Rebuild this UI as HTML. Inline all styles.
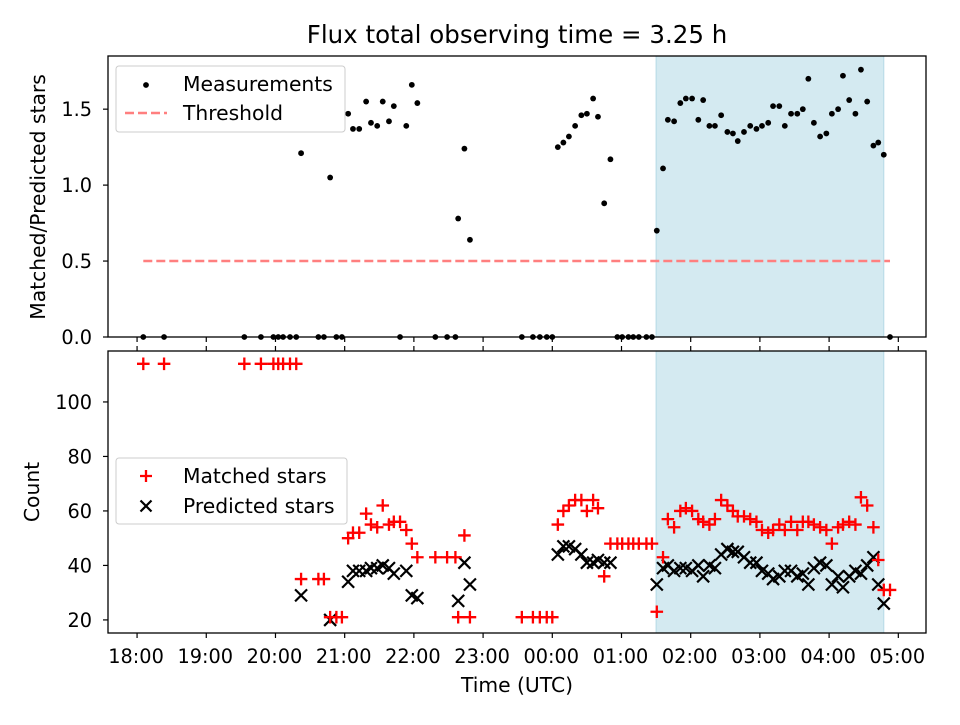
<!DOCTYPE html>
<html><head><meta charset="utf-8"><style>
body{margin:0;background:#fff;}
svg text{font-family:"DejaVu Sans","Liberation Sans",sans-serif;fill:#000;}
</style></head><body>
<svg id="c" width="960" height="720" xmlns="http://www.w3.org/2000/svg"></svg>
<script>
const times=[0.09,0.39,1.55,1.79,1.97,2.04,2.11,2.21,2.30,2.37,2.62,2.70,2.79,2.88,2.96,3.05,3.12,3.21,3.31,3.38,3.47,3.55,3.64,3.71,3.80,3.89,3.97,4.05,4.31,4.48,4.60,4.64,4.73,4.81,
5.56,5.72,5.82,5.92,6.00,6.08,6.16,6.24,6.33,6.42,6.50,6.59,6.66,6.75,6.84,6.94,7.01,7.10,7.17,7.25,7.36,7.44,7.51,
7.60,7.67,7.76,7.85,7.93,8.02,8.11,8.18,8.27,8.35,8.44,8.53,8.61,8.68,8.77,8.86,8.95,9.03,9.12,9.19,9.28,9.36,9.45,9.54,9.62,9.70,9.78,9.87,9.96,10.04,10.13,10.20,10.29,10.38,10.46,10.55,10.64,10.71,10.79,10.88];
const ratios=[0,0,0,0,0,0,0,0,0,1.21,0,0,1.05,0,0,1.47,1.37,1.37,1.55,1.41,1.39,1.55,1.42,1.52,0,1.39,1.66,1.54,0,0,0,0.78,1.24,0.64,
0,0,0,0,0,1.25,1.28,1.32,1.39,1.46,1.47,1.57,1.45,0.88,1.17,0,0,0,0,0,0,0,0.70,
1.11,1.43,1.42,1.54,1.57,1.57,1.43,1.56,1.39,1.39,1.46,1.35,1.34,1.29,1.35,1.39,1.37,1.39,1.41,1.52,1.52,1.39,1.47,1.47,1.50,1.70,1.41,1.32,1.34,1.47,1.50,1.72,1.56,1.47,1.76,1.55,1.26,1.28,1.20,0];
const matched=[114,114,114,114,114,114,114,114,114,35,35,35,21,21,21,50,52,52,59,55,54,62,55,56,56,53,48,43,43,43,43,21,51,21,
21,21,21,21,21,55,60,62,64,64,60,64,61,36,48,48,48,48,48,48,48,48,23,
43,57,54,60,61,60,57,56,55,57,64,62,60,58,58,57,56,53,52,53,55,53,56,53,56,56,55,54,53,48,54,55,56,55,65,62,54,42,31,31];
const predicted=[null,null,null,null,null,null,null,null,null,29,null,null,20,null,null,34,38,38,38,39,39,40,39,37,null,38,29,28,null,null,null,27,41,33,
null,null,null,null,null,44,47,47,46,44,41,41,42,41,41,null,null,null,null,null,null,null,33,
39,40,38,39,39,38,40,36,40,39,44,46,45,45,43,41,41,38,37,35,36,38,38,36,37,33,39,41,40,33,36,32,36,38,37,40,43,33,26,null];
const tickLabels=["18:00","19:00","20:00","21:00","22:00","23:00","00:00","01:00","02:00","03:00","04:00","05:00"];
const topTicks=[0,0.5,1.0,1.5];
const botTicks=[20,40,60,80,100];
const threshold=0.5;
const shadeStart=7.50, shadeEnd=10.79;

const NS="http://www.w3.org/2000/svg";
const svg=document.getElementById('c');
const L=108,R=926,T1=56,B1=337,T2=351,B2=633;
const xMin=-0.42,xMax=11.40;
const X=h=>L+(h-xMin)/(xMax-xMin)*(R-L);
const Y1=v=>B1-(v-0)/(1.85-0)*(B1-T1);
const Y2=v=>B2-(v-15.2)/(118.7-15.2)*(B2-T2);
const FT=19.3, FL=20.3;
function el(tag,attrs,parent){const e=document.createElementNS(NS,tag);for(const k in attrs)e.setAttribute(k,attrs[k]);(parent||svg).appendChild(e);return e;}
function txt(s,attrs,parent){const e=el('text',attrs,parent);e.textContent=s;return e;}

let t=txt("Flux total observing time = 3.25 h",{x:517,y:43,'font-size':24.5,'text-anchor':'middle'});


function panel(T,B,Y,ticks,fmt,name){
  const g=el('g',{});
  
  
  const sh=el('rect',{x:X(shadeStart),y:T,width:X(shadeEnd)-X(shadeStart),height:B-T,fill:'#d4eaf1',stroke:'#b5d9e6','stroke-width':1},g);
  
  
  ticks.forEach(v=>{
    el('line',{x1:L-5,x2:L,y1:Y(v),y2:Y(v),stroke:'#000','stroke-width':1.2},g);
    const tl=txt(fmt(v),{x:L-16,y:Y(v)+7,'font-size':FT,'text-anchor':'end'},g);
    
    
  });
  tickLabels.forEach((s,i)=>{
    el('line',{x1:X(i),x2:X(i),y1:B,y2:B+5,stroke:'#000','stroke-width':1.2},g);
  });
  return g;
}
const g1=panel(T1,B1,Y1,topTicks,v=>v.toFixed(1),'top-panel');
const g2=panel(T2,B2,Y2,botTicks,v=>String(v),'bottom-panel');
tickLabels.forEach((s,i)=>{el('line',{x1:X(i),x2:X(i),y1:T2-5,y2:T2,stroke:'#000','stroke-width':1.2},g2);});

const th=el('line',{x1:X(times[0]),x2:X(times[times.length-1]),y1:Y1(threshold),y2:Y1(threshold),stroke:'#ff7f7f','stroke-width':2.5,'stroke-dasharray':'9,4'},g1);



times.forEach((h,i)=>{
  const c=el('circle',{cx:X(h),cy:Y1(ratios[i]),r:2.9,fill:'#000'},g1);
  
  
});
times.forEach((h,i)=>{
  if(predicted[i]!==null){
    const x=X(h),y=Y2(predicted[i]),d=6;
    const p=el('path',{d:`M${x-d},${y-d}L${x+d},${y+d}M${x-d},${y+d}L${x+d},${y-d}`,stroke:'#000','stroke-width':2.2},g2);
    
    
  }
});
times.forEach((h,i)=>{
  const x=X(h),y=Y2(matched[i]),d=6.3;
  const p=el('path',{d:`M${x-d},${y}L${x+d},${y}M${x},${y-d}L${x},${y+d}`,stroke:'#ff0000','stroke-width':2.3},g2);
  
  
});

el('rect',{x:L,y:T1,width:R-L,height:B1-T1,fill:'none',stroke:'#000','stroke-width':1.3});
el('rect',{x:L,y:T2,width:R-L,height:B2-T2,fill:'none',stroke:'#000','stroke-width':1.3});

tickLabels.forEach((s,i)=>{
  const tl=txt(s,{x:X(i)-1,y:B2+30,'font-size':FT,'text-anchor':'middle'});
  
  
});
let xl=txt("Time (UTC)",{x:517,y:692,'font-size':FL,'text-anchor':'middle'});

let yl1=txt("Matched/Predicted stars",{x:0,y:0,'font-size':FL,'text-anchor':'middle',transform:'translate(45,197) rotate(-90)'});

let yl2=txt("Count",{x:0,y:0,'font-size':FL,'text-anchor':'middle',transform:'translate(39,492) rotate(-90)'});


const lg1=el('g',{});


el('rect',{x:116,y:66,width:229,height:66,rx:3,fill:'#fff','fill-opacity':0.8,stroke:'#ccc'},lg1);
el('circle',{cx:146,cy:85,r:2.9,fill:'#000'},lg1);
txt("Measurements",{x:183,y:91,'font-size':FL},lg1);
el('line',{x1:125,x2:167,y1:113,y2:113,stroke:'#ff7f7f','stroke-width':2.5,'stroke-dasharray':'9,4'},lg1);
txt("Threshold",{x:183,y:120,'font-size':FL},lg1);

const lg2=el('g',{});


el('rect',{x:116,y:458,width:231,height:66,rx:3,fill:'#fff','fill-opacity':0.8,stroke:'#ccc'},lg2);
el('path',{d:'M140,476L152,476M146,470L146,482',stroke:'#ff0000','stroke-width':2.3},lg2);
txt("Matched stars",{x:183,y:483,'font-size':FL},lg2);
el('path',{d:'M140.5,500.5L151.5,511.5M140.5,511.5L151.5,500.5',stroke:'#000','stroke-width':2.2},lg2);
txt("Predicted stars",{x:183,y:513,'font-size':FL},lg2);
</script>
</body></html>
